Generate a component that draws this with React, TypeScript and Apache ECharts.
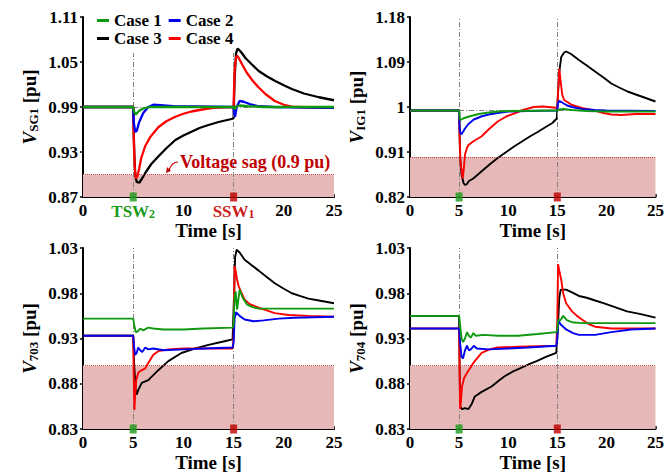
import React, { useEffect, useRef } from "react";
import * as echarts from "echarts";

const FONT = '"Liberation Serif", "Times New Roman", serif';
const C_GREEN = "#0f990f";
const C_BLUE = "#0000f0";
const C_BLACK = "#000000";
const C_RED = "#ff0000";

const caseNames = ["Case 1", "Case 2", "Case 3", "Case 4"];
const xTicks = [0, 5, 10, 15, 20, 25];
const sagLevel = 0.9;

// Panel 1: V_SG1
const sg1Case1 = [[0,0.99],[5,0.99],[5.1,0.983],[5.25,0.98],[5.6,0.985],[6,0.988],[6.6,0.99],[15,0.99],[15.1,0.987],[15.3,0.991],[15.6,0.992],[16.5,0.991],[18,0.99],[25,0.99]];
const sg1Case2 = [[0,0.99],[5,0.99],[5.05,0.97],[5.2,0.957],[5.35,0.958],[5.6,0.97],[6,0.982],[6.5,0.99],[7,0.993],[8,0.992],[9,0.991],[15,0.99],[15.05,0.982],[15.15,0.977],[15.3,0.99],[15.6,0.998],[16,0.997],[16.6,0.994],[17.5,0.991],[19,0.99],[25,0.989]];
const sg1Case3 = [[0,0.99],[5,0.99],[5.1,0.93],[5.2,0.9],[5.35,0.89],[5.6,0.889],[5.9,0.895],[6.2,0.902],[6.8,0.914],[7.5,0.924],[8.3,0.935],[9.2,0.946],[10,0.952],[10.8,0.957],[11.6,0.962],[12.5,0.966],[13.5,0.97],[14.8,0.974],[15,0.975],[15.1,1.03],[15.25,1.062],[15.4,1.068],[15.7,1.064],[16.2,1.055],[16.8,1.047],[17.5,1.038],[18.3,1.031],[19.1,1.025],[20,1.019],[20.8,1.014],[22,1.008],[23.5,1.003],[25,0.999]];
const sg1Case4 = [[0,0.99],[5,0.99],[5.05,0.95],[5.15,0.91],[5.25,0.895],[5.4,0.897],[5.6,0.908],[5.8,0.922],[6.2,0.938],[6.7,0.95],[7.5,0.963],[8.3,0.971],[9.2,0.977],[10,0.981],[10.8,0.984],[12,0.987],[13,0.989],[15,0.99],[15.1,1.04],[15.25,1.057],[15.4,1.058],[15.8,1.048],[16.3,1.036],[16.9,1.025],[17.5,1.016],[18.2,1.007],[19.1,0.998],[20,0.993],[21,0.99],[25,0.989]];

// Panel 2: V_IG1
const ig1Case1 = [[0,0.993],[5,0.993],[5.05,0.978],[5.15,0.974],[5.4,0.977],[6,0.981],[7,0.986],[8,0.989],[9,0.991],[10,0.992],[15,0.993],[15.2,0.995],[15.6,0.996],[16.5,0.994],[18,0.992],[20,0.991],[25,0.991]];
const ig1Case2 = [[0,0.993],[5,0.993],[5.05,0.96],[5.15,0.946],[5.3,0.947],[5.6,0.957],[5.95,0.966],[6.5,0.975],[7.25,0.981],[8,0.985],[8.9,0.988],[10,0.991],[12,0.992],[15,0.993],[15.05,1.005],[15.15,1.012],[15.4,1.01],[16,1.003],[16.5,1.0],[17.5,0.996],[18.8,0.994],[20,0.993],[25,0.992]];
const ig1Case3 = [[0,0.993],[5,0.993],[5.1,0.9],[5.25,0.865],[5.45,0.848],[5.6,0.844],[5.8,0.846],[6,0.852],[6.45,0.857],[7.27,0.871],[8.1,0.885],[8.93,0.898],[9.8,0.91],[10.6,0.921],[11.4,0.931],[12.2,0.941],[13,0.95],[13.9,0.961],[14.5,0.968],[14.95,0.977],[15.05,1.02],[15.2,1.07],[15.4,1.1],[15.7,1.109],[15.9,1.111],[16.4,1.106],[17.2,1.094],[18,1.083],[18.85,1.071],[19.7,1.059],[20.5,1.047],[21.3,1.039],[22.15,1.031],[23,1.025],[24,1.018],[25,1.011]];
const ig1Case4 = [[0,0.993],[5,0.993],[5.05,0.94],[5.15,0.885],[5.25,0.875],[5.35,0.857],[5.45,0.87],[5.6,0.905],[5.8,0.918],[5.95,0.924],[6.5,0.932],[7.27,0.941],[8,0.955],[8.93,0.971],[9.8,0.981],[10.6,0.987],[11.5,0.994],[12.6,1.0],[13.5,1.001],[14.6,0.999],[15,0.998],[15.08,1.03],[15.2,1.077],[15.35,1.05],[15.5,1.025],[15.7,1.014],[16.5,1.004],[17.5,0.998],[18.8,0.993],[19.7,0.988],[20.5,0.985],[21.5,0.984],[23,0.986],[25,0.986]];

// Panel 3: V_703
const b703Case1 = [[0,0.952],[5,0.952],[5.1,0.945],[5.25,0.937],[5.45,0.938],[5.7,0.941],[6,0.939],[6.5,0.942],[7,0.941],[8,0.94],[10,0.94],[12,0.941],[14.9,0.942],[15,0.945],[15.1,0.975],[15.2,0.982],[15.35,0.962],[15.6,0.984],[15.9,0.975],[16.3,0.968],[16.8,0.965],[17.5,0.963],[25,0.963]];
const b703Case2 = [[0,0.933],[5,0.933],[5.1,0.92],[5.2,0.912],[5.35,0.914],[5.5,0.92],[5.7,0.917],[5.9,0.915],[6.2,0.92],[6.5,0.918],[7,0.919],[8,0.917],[10,0.918],[12,0.919],[14.9,0.92],[15,0.925],[15.1,0.952],[15.25,0.959],[15.6,0.955],[16.1,0.951],[17,0.949],[18,0.95],[19.5,0.952],[21,0.953],[25,0.954]];
const b703Case3 = [[0,0.933],[5,0.933],[5.1,0.9],[5.25,0.874],[5.35,0.868],[5.5,0.873],[5.85,0.881],[6.5,0.884],[7.5,0.895],[8.5,0.905],[9.8,0.914],[11.2,0.919],[12.5,0.923],[14.1,0.927],[14.9,0.929],[15.05,0.98],[15.15,1.02],[15.3,1.028],[15.6,1.025],[16.1,1.017],[16.8,1.011],[17.5,1.005],[18.3,0.998],[19.1,0.991],[20,0.985],[20.8,0.98],[21.6,0.977],[22.45,0.974],[23.5,0.972],[25,0.969]];
const b703Case4 = [[0,0.933],[5,0.933],[5.05,0.89],[5.12,0.851],[5.2,0.868],[5.3,0.884],[5.5,0.892],[5.68,0.894],[6.2,0.897],[6.5,0.903],[7,0.912],[7.5,0.916],[8.5,0.918],[10,0.919],[14.9,0.919],[15,0.93],[15.1,1.01],[15.2,1.005],[15.35,0.995],[15.5,0.988],[15.8,0.98],[16.1,0.973],[16.6,0.968],[17.5,0.964],[18.3,0.961],[19.1,0.958],[20.5,0.956],[22.5,0.955],[25,0.954]];

// Panel 4: V_704
const b704Case1 = [[0,0.955],[5,0.955],[5.1,0.945],[5.25,0.93],[5.4,0.926],[5.6,0.93],[5.8,0.937],[6,0.933],[6.2,0.931],[6.45,0.936],[6.7,0.933],[7.5,0.934],[9,0.933],[11,0.933],[13,0.935],[14.9,0.937],[15,0.94],[15.1,0.951],[15.3,0.95],[15.6,0.955],[16,0.95],[16.5,0.948],[17.5,0.947],[25,0.947]];
const b704Case2 = [[0,0.941],[5,0.941],[5.1,0.925],[5.25,0.91],[5.4,0.908],[5.6,0.917],[5.8,0.922],[6,0.917],[6.2,0.918],[6.5,0.922],[6.8,0.919],[8,0.918],[10,0.919],[12,0.92],[14.9,0.922],[15,0.93],[15.08,0.951],[15.3,0.946],[15.9,0.94],[16.6,0.936],[17.2,0.934],[18.85,0.934],[20.5,0.937],[22.5,0.94],[25,0.941]];
const b704Case3 = [[0,0.955],[5,0.955],[5.05,0.9],[5.1,0.855],[5.3,0.852],[5.6,0.853],[5.95,0.852],[6.3,0.858],[6.6,0.866],[7.3,0.871],[8.3,0.877],[9,0.883],[9.6,0.888],[10.4,0.893],[11.2,0.897],[12,0.901],[12.9,0.905],[13.9,0.91],[14.9,0.914],[15.05,0.94],[15.2,0.975],[15.35,0.984],[15.9,0.984],[16.5,0.981],[17.2,0.977],[18,0.975],[18.85,0.972],[19.7,0.969],[20.5,0.966],[21.3,0.963],[22.1,0.96],[23.5,0.957],[25,0.953]];
const b704Case4 = [[0,0.941],[5,0.941],[5.05,0.9],[5.1,0.852],[5.2,0.862],[5.3,0.877],[5.5,0.886],[5.8,0.892],[6.45,0.903],[7.3,0.914],[8.1,0.918],[8.9,0.92],[11,0.921],[14.9,0.922],[15,0.95],[15.08,1.012],[15.2,1.005],[15.4,0.995],[15.6,0.98],[15.9,0.969],[16.5,0.96],[17,0.955],[17.5,0.951],[18.2,0.946],[18.85,0.943],[20.5,0.941],[25,0.941]];

const panels = [
  { sub: "SG1", min: 0.87, max: 1.11, step: 0.06, data: [sg1Case1, sg1Case2, sg1Case3, sg1Case4], vTop: 1.062, ref: 0.99, special: true },
  { sub: "IG1", min: 0.82, max: 1.18, step: 0.09, data: [ig1Case1, ig1Case2, ig1Case3, ig1Case4], vTop: 1.18, ref: 0.993, special: false },
  { sub: "703", min: 0.83, max: 1.03, step: 0.05, data: [b703Case1, b703Case2, b703Case3, b703Case4], vTop: 1.03, ref: null, special: false },
  { sub: "704", min: 0.83, max: 1.03, step: 0.05, data: [b704Case1, b704Case2, b704Case3, b704Case4], vTop: 1.03, ref: null, special: false },
];

const gridBoxes = [
  { left: 83, top: 17, width: 251, height: 180 },
  { left: 410, top: 17, width: 252, height: 180 },
  { left: 83, top: 248, width: 251, height: 181 },
  { left: 410, top: 248, width: 252, height: 181 },
];

const colors = [C_GREEN, C_BLUE, C_BLACK, C_RED];

export default function App() {
  const ref = useRef<HTMLDivElement>(null);
  useEffect(() => {
    if (!ref.current) return;
    const chart = echarts.init(ref.current, null, { renderer: "svg" });
    const grid = gridBoxes.map((g) => ({ ...g, containLabel: false }));
    const xAxis = panels.map((p, i) => ({
      type: "value",
      gridIndex: i,
      min: xTicks[0],
      max: xTicks[xTicks.length - 1],
      interval: 5,
      name: "Time [s]",
      nameLocation: "middle",
      nameGap: 24,
      nameTextStyle: { fontFamily: FONT, fontWeight: "bold", fontSize: 19, color: "#000" },
      axisLine: { lineStyle: { color: "#000", width: 2 } },
      axisTick: { inside: true, length: 3, lineStyle: { color: "#000", width: 1.5 } },
      splitLine: { show: false },
      axisLabel: {
        margin: 5,
        fontFamily: FONT,
        fontWeight: "bold",
        fontSize: 17,
        color: "#000",
        formatter: (v: number) => {
          if (p.special && v === 5) return "{g|TSW}{gs|2}";
          if (p.special && v === 15) return "{r|SSW}{rs|1}";
          return String(v);
        },
        rich: {
          g: { fontFamily: FONT, fontWeight: "bold", fontSize: 17, color: "#1a9a1a" },
          gs: { fontFamily: FONT, fontWeight: "bold", fontSize: 12, color: "#1a9a1a", verticalAlign: "bottom", lineHeight: 18 },
          r: { fontFamily: FONT, fontWeight: "bold", fontSize: 17, color: "#cc1c1c" },
          rs: { fontFamily: FONT, fontWeight: "bold", fontSize: 12, color: "#cc1c1c", verticalAlign: "bottom", lineHeight: 18 },
        },
      },
    }));
    const yAxis = panels.map((p, i) => ({
      type: "value",
      gridIndex: i,
      min: p.min,
      max: p.max,
      interval: p.step,
      name: "{v|V}{s|" + p.sub + "}{n| [pu]}",
      nameLocation: "middle",
      nameGap: 43,
      nameTextStyle: {
        fontFamily: FONT,
        fontWeight: "bold",
        fontSize: 19,
        color: "#000",
        rich: {
          v: { fontFamily: FONT, fontWeight: "bold", fontStyle: "italic", fontSize: 19, color: "#000", lineHeight: 22 },
          s: { fontFamily: FONT, fontWeight: "bold", fontSize: 13, color: "#000", verticalAlign: "bottom", lineHeight: 22 },
          n: { fontFamily: FONT, fontWeight: "bold", fontSize: 19, color: "#000", lineHeight: 22 },
        },
      },
      axisLine: { show: true, lineStyle: { color: "#000", width: 2 } },
      axisTick: { show: true, inside: false, length: 3, lineStyle: { color: "#000", width: 1.5 } },
      splitLine: { show: false },
      axisLabel: {
        margin: 5,
        fontFamily: FONT,
        fontWeight: "bold",
        fontSize: 17,
        color: "#000",
        formatter: (v: number) => String(parseFloat(v.toFixed(2))),
      },
    }));

    const series: any[] = [];
    panels.forEach((p, i) => {
      const dd = [5, 15].map((x) => [
        { coord: [x, p.min], lineStyle: { color: "#808080", width: 1, type: [5, 2, 1, 2] } },
        { coord: [x, p.vTop] },
      ]);
      const mlData: any[] = [
        [
          { coord: [0, sagLevel], lineStyle: { color: "#c0504d", width: 1, type: "dotted" } },
          { coord: [25, sagLevel] },
        ],
        ...dd,
      ];
      if (p.ref !== null) {
        mlData.push([
          { coord: [5, p.ref], lineStyle: { color: "#808080", width: 1, type: [5, 2, 1, 2] } },
          { coord: [17, p.ref] },
        ]);
      }
      series.push({
        type: "line",
        name: "_ref" + i,
        xAxisIndex: i,
        yAxisIndex: i,
        data: [[0, p.min]],
        showSymbol: false,
        lineStyle: { opacity: 0 },
        z: 1,
        silent: true,
        markArea: {
          silent: true,
          itemStyle: { color: "#e6b9b8" },
          data: [[{ coord: [0, p.min] }, { coord: [25, sagLevel] }]],
        },
        markLine: {
          silent: true,
          symbol: ["none", "none"],
          label: { show: false },
          data: mlData,
        },
      });
      p.data.forEach((d, k) => {
        series.push({
          type: "line",
          name: caseNames[k],
          xAxisIndex: i,
          yAxisIndex: i,
          data: d,
          showSymbol: false,
          symbol: "none",
          color: colors[k],
          lineStyle: { color: colors[k], width: i === 0 ? 2.3 : 1.9 },
          z: 3 + (k === 0 ? 4 : k === 1 ? 3 : k === 3 ? 2 : 1),
        });
      });
      series.push({
        type: "scatter",
        name: "_m5_" + i,
        xAxisIndex: i,
        yAxisIndex: i,
        data: [[5, p.min]],
        symbol: "rect",
        symbolSize: [7, 9],
        itemStyle: { color: "#1a9a1a" },
        clip: false,
        z: 20,
        silent: true,
      });
      series.push({
        type: "scatter",
        name: "_m15_" + i,
        xAxisIndex: i,
        yAxisIndex: i,
        data: [[15, p.min]],
        symbol: "rect",
        symbolSize: [7, 9],
        itemStyle: { color: "#c00000" },
        clip: false,
        z: 20,
        silent: true,
      });
    });

    const legendCommon = {
      orient: "horizontal",
      icon: "rect",
      itemWidth: 12,
      itemHeight: 3,
      itemGap: 7,
      padding: 0,
      textStyle: { fontFamily: FONT, fontWeight: "bold", fontSize: 17, color: "#000" },
      selectedMode: false,
    };

    chart.setOption({
      animation: false,
      backgroundColor: "#fff",
      grid,
      xAxis,
      yAxis,
      legend: [
        { ...legendCommon, data: [caseNames[0], caseNames[1]], left: 97, top: 12 },
        { ...legendCommon, data: [caseNames[2], caseNames[3]], left: 97, top: 30 },
      ],
      graphic: [
        {
          type: "text",
          left: 180,
          top: 153,
          style: { text: "Voltage sag (0.9 pu)", fill: "#c00000", font: 'bold 18px "Liberation Serif", serif' },
          z: 30,
        },
        {
          type: "bezierCurve",
          shape: { x1: 178, y1: 162, x2: 169, y2: 170, cpx1: 172, cpy1: 162 },
          style: { stroke: "#c00000", lineWidth: 1.2, fill: null },
          z: 30,
        },
        {
          type: "polygon",
          shape: { points: [[166, 173], [167, 167], [171, 171]] },
          style: { fill: "#c00000" },
          z: 30,
        },
      ],
      series,
    });
    return () => chart.dispose();
  }, []);
  return <div ref={ref} style={{ position: "fixed", left: 0, top: 0, width: 667, height: 474, background: "#fff" }} />;
}
